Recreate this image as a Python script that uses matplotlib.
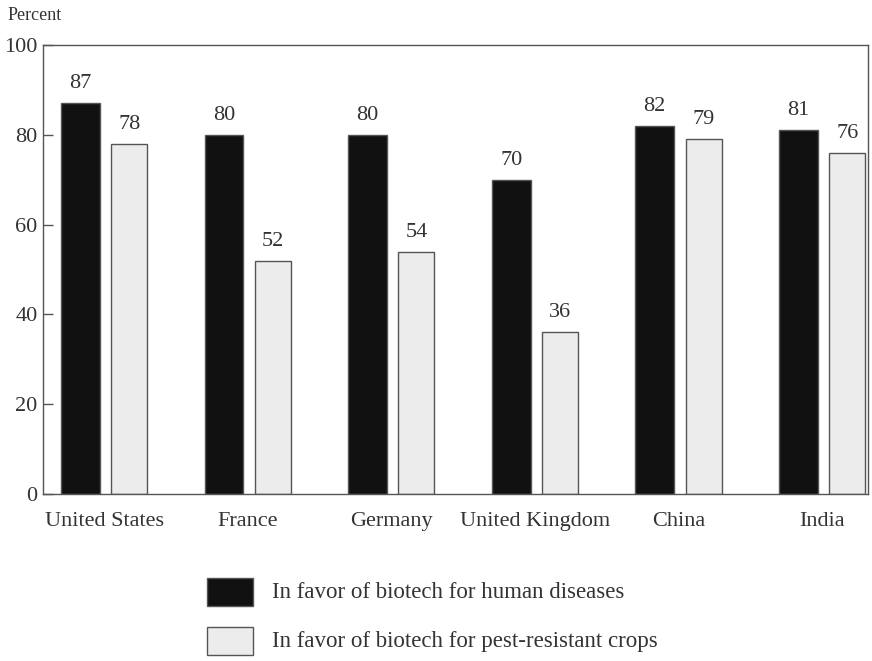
import matplotlib
matplotlib.use("Agg")
import matplotlib.pyplot as plt
from matplotlib.patches import Rectangle
import numpy as np

countries = ["United States", "France", "Germany", "United Kingdom", "China", "India"]
human_diseases = [87, 80, 80, 70, 82, 81]
pest_crops = [78, 52, 54, 36, 79, 76]
series_labels = ["In favor of biotech for human diseases",
                 "In favor of biotech for pest-resistant crops"]
yticks = [0, 20, 40, 60, 80, 100]

plt.rcParams['font.family'] = ['Liberation Serif', 'DejaVu Serif']
txt = '#333333'
edge = '#555555'
dark = '#111111'
light = '#ececec'

fig = plt.figure(figsize=(8.72, 6.61), dpi=100)
ax = fig.add_axes([43/872, 1-494/661, 825/872, 449/661])

x = np.arange(len(countries))
b1 = ax.bar(x - 0.165, human_diseases, width=0.27, color=dark, edgecolor=edge, linewidth=1)
b2 = ax.bar(x + 0.175, pest_crops, width=0.25, color=light, edgecolor=edge, linewidth=1)

for bars, vals in ((b1, human_diseases), (b2, pest_crops)):
    for r, v in zip(bars, vals):
        ax.annotate(str(v), (r.get_x() + r.get_width()/2, v), xytext=(0, 14),
                    textcoords='offset points', ha='center', va='center',
                    fontsize=16, color=txt)

ax.set_xlim(-0.425, 5.32)
ax.set_ylim(0, 100)
ax.set_yticks(yticks)
ax.set_xticks(x)
ax.set_xticklabels(countries)
ax.tick_params(axis='x', length=0, pad=13, labelsize=16, labelcolor=txt)
ax.tick_params(axis='y', direction='in', length=7.5, width=1, color=edge, pad=4,
               labelsize=16, labelcolor=txt)
for s in ax.spines.values():
    s.set_color(edge)
    s.set_linewidth(1)

fig.text(8/872, 1-15/661, "Percent", fontsize=13, color=txt, va='center', ha='left')

# legend drawn by hand below the axes
for i, (lab, fc) in enumerate(zip(series_labels, (dark, light))):
    yc = 592 + i*49
    fig.patches.append(Rectangle((207/872, 1-(yc+14)/661), 46/872, 28/661,
                                 transform=fig.transFigure, facecolor=fc,
                                 edgecolor=edge, linewidth=1))
    fig.text(272/872, 1-yc/661, lab, fontsize=16.5, color=txt, va='center', ha='left')

fig.savefig("out.png", dpi=100)
